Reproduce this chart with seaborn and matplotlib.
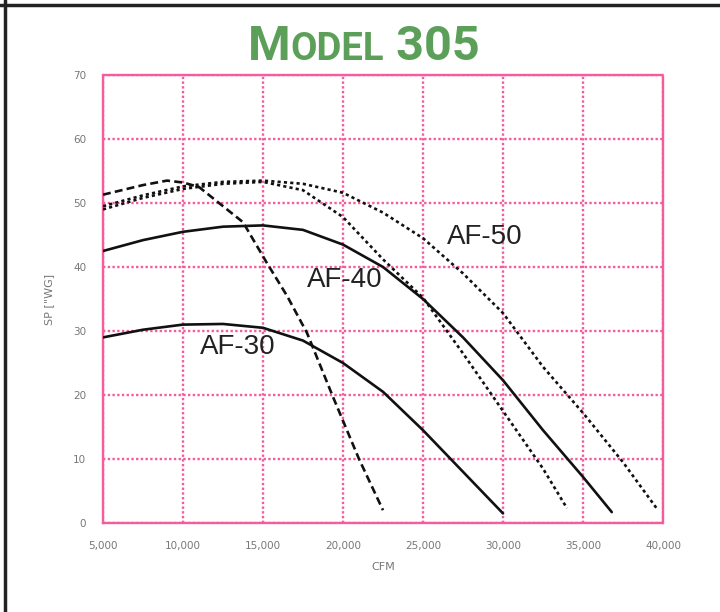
import matplotlib
matplotlib.use("Agg")
import matplotlib.pyplot as plt
import seaborn as sns
import pandas as pd
from matplotlib.lines import Line2D
from matplotlib.offsetbox import TextArea, HPacker, AnchoredOffsetbox

# ---- data ----
af30_cfm = [5000, 7500, 10000, 12500, 15000, 17500, 20000, 22500, 25000, 27500, 30000]
af30_sp = [29.0, 30.2, 31.0, 31.1, 30.5, 28.5, 25.0, 20.5, 14.5, 8.0, 1.5]

af40_cfm = [5000, 7500, 10000, 12500, 15000, 17500, 20000, 22500, 25000, 27500, 30000, 32500, 35000, 36800]
af40_sp = [42.5, 44.2, 45.5, 46.3, 46.5, 45.8, 43.5, 40.0, 35.0, 29.0, 22.3, 14.5, 7.2, 1.7]

dashA_cfm = [5000, 7500, 9000, 10000, 11000, 12500, 13750, 15250, 16500, 17750, 19375, 21000, 22500]
dashA_sp = [51.3, 52.8, 53.5, 53.2, 52.5, 49.5, 47.0, 40.6, 35.5, 29.7, 19.7, 10.0, 2.0]

dotB_cfm = [5000, 7500, 10000, 12500, 15000, 17500, 20000, 22500, 25000, 27500, 30000, 32500, 34000]
dotB_sp = [49.0, 50.8, 52.2, 53.0, 53.3, 52.0, 47.8, 41.2, 35.2, 26.5, 17.5, 8.5, 2.3]

dotC_cfm = [5000, 7500, 10000, 12500, 15000, 17500, 20000, 22500, 25000, 27500, 30000, 32500, 35000, 37500, 39600]
dotC_sp = [49.5, 51.2, 52.6, 53.3, 53.5, 53.0, 51.6, 48.5, 44.5, 39.0, 32.8, 24.4, 17.2, 9.5, 2.3]

x_ticks = [5000, 10000, 15000, 20000, 25000, 30000, 35000, 40000]
x_labels = ["5,000", "10,000", "15,000", "20,000", "25,000", "30,000", "35,000", "40,000"]
y_ticks = [0, 10, 20, 30, 40, 50, 60, 70]
y_labels = ["0", "10", "20", "30", "40", "50", "60", "70"]

curve_labels = ["AF-30", "AF-40", "AF-50"]
label_cfm = [13440, 20125, 28875]
label_sp = [27.5, 38.0, 44.7]

# ---- figure ----
sns.set_style("white")
plt.rcParams['font.family'] = ['DejaVu Sans']
fig = plt.figure(figsize=(7.2, 6.12), dpi=100)
ax = fig.add_axes([103/720, 1-523/612, 560/720, 448/612])

pink = '#f45c9e'
ink = '#111111'

curves = [
    (af30_cfm, af30_sp, '-'),
    (af40_cfm, af40_sp, '-'),
    (dashA_cfm, dashA_sp, (0, (3, 1.6))),
    (dotB_cfm, dotB_sp, (0, (1.2, 1.2))),
    (dotC_cfm, dotC_sp, (0, (1.2, 1.2))),
]
for xs, ys, ls in curves:
    df = pd.DataFrame({"CFM": xs, "SP": ys})
    sns.lineplot(data=df, x="CFM", y="SP", ax=ax, color=ink, linewidth=1.9,
                 linestyle=ls, estimator=None, sort=False, zorder=3)

ax.set_xlim(5000, 40000)
ax.set_ylim(0, 70)
ax.set_xticks(x_ticks)
ax.set_xticklabels(x_labels)
ax.set_yticks(y_ticks)
ax.set_yticklabels(y_labels)
ax.grid(True, color=pink, linestyle=(0, (1, 1)), linewidth=1.7, zorder=1)
ax.set_axisbelow(True)
for s in ax.spines.values():
    s.set_color(pink)
    s.set_linestyle((0, (1, 1)))
    s.set_linewidth(1.7)
ax.tick_params(axis='both', colors=pink, direction='out', length=4, width=1.5,
               labelcolor='#777777', labelsize=7.5)
ax.tick_params(axis='x', pad=9)
ax.tick_params(axis='y', pad=8)

ax.set_xlabel("CFM", fontsize=8, color='#777777', labelpad=8)
ax.set_ylabel('SP ["WG]', fontsize=8, color='#777777', labelpad=14)

for t, cx, cy in zip(curve_labels, label_cfm, label_sp):
    ax.text(cx, cy, t, fontsize=20, family=['Liberation Sans', 'DejaVu Sans'],
            color='#222222', ha='center', va='center', zorder=4)

# ---- title in small caps style ----
green = '#5b9f58'
tfam = ['Roboto', 'DejaVu Sans']
big = dict(color=green, fontsize=35, fontweight='bold', fontstretch='condensed', family=tfam)
small = dict(color=green, fontsize=27.5, fontweight='bold', fontstretch='condensed', family=tfam)
box = HPacker(children=[TextArea("M", textprops=big), TextArea("ODEL", textprops=small),
                        TextArea(" 305", textprops=big)], align="baseline", pad=0, sep=0)
anch = AnchoredOffsetbox(loc='center', child=box, frameon=False,
                         bbox_to_anchor=(364/720, 1-47/612), bbox_transform=fig.transFigure,
                         borderpad=0, pad=0)
fig.add_artist(anch)

# ---- black frame (top and left) ----
fig.add_artist(Line2D([0, 1], [1-5/612, 1-5/612], transform=fig.transFigure, color='#222222', linewidth=2.5))
fig.add_artist(Line2D([5/720, 5/720], [0, 1], transform=fig.transFigure, color='#222222', linewidth=2.5))

fig.savefig("out.png", dpi=100)
